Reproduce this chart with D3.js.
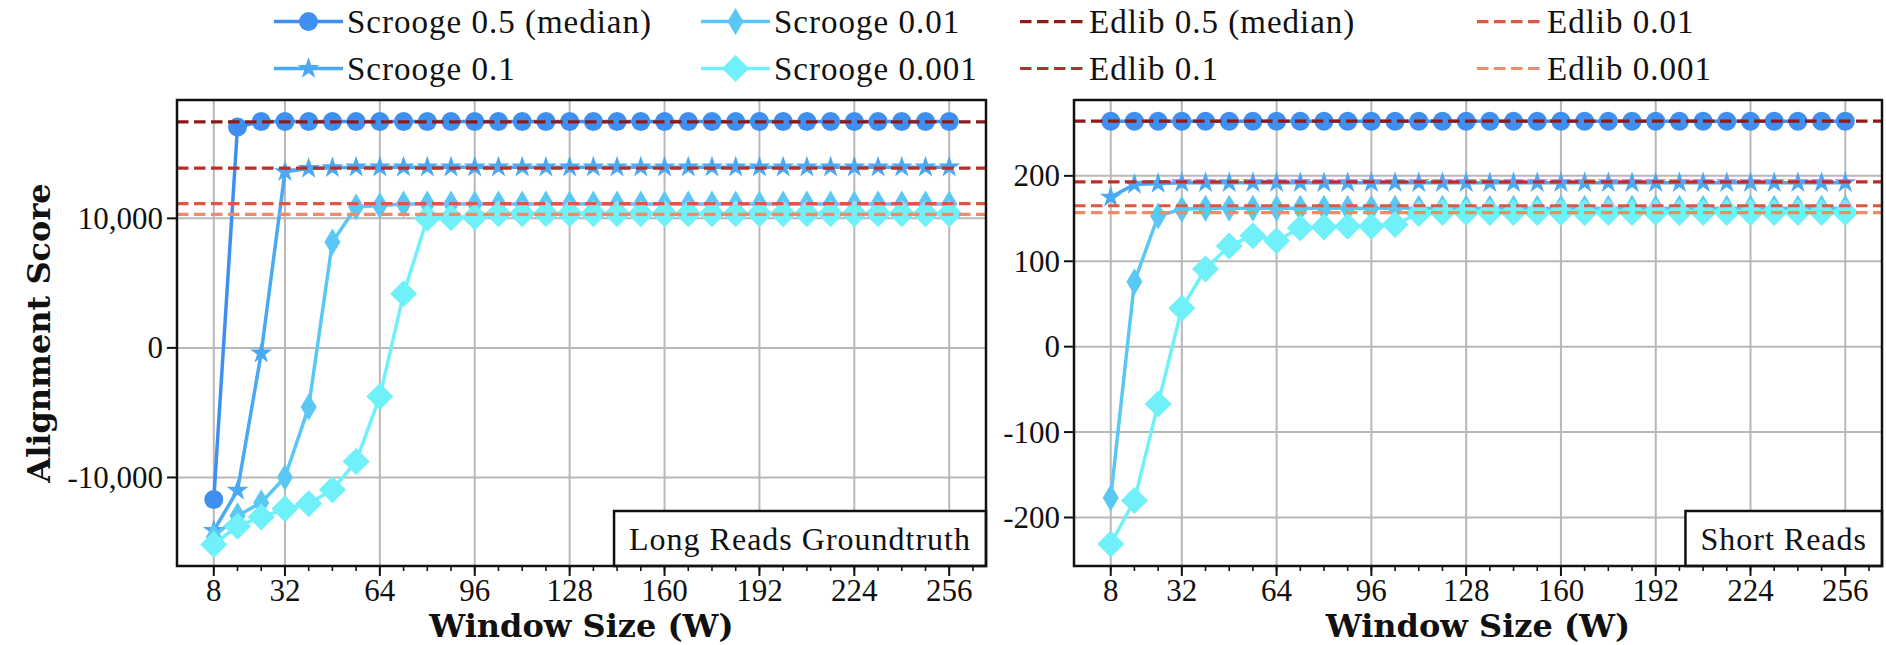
<!DOCTYPE html>
<html>
<head>
<meta charset="utf-8">
<script src="https://cdn.jsdelivr.net/npm/d3@7"></script>
<style>
  html, body { margin: 0; padding: 0; background: #fff; }
  svg { display: block; }
  .rm { font-family: "Liberation Serif", "DejaVu Serif", serif; fill: #111; }
  .bf { font-family: "DejaVu Serif", "Liberation Serif", serif; font-weight: bold; fill: #111; }
</style>
</head>
<body>
<svg id="chart" width="1886" height="645"></svg>
<script>
// ---- data ----
const windowSizes = [8, 16, 24, 32, 40, 48, 56, 64, 72, 80, 88, 96, 104, 112, 120, 128,
                     136, 144, 152, 160, 168, 176, 184, 192, 200, 208, 216, 224, 232, 240, 248, 256];
const xMajorTicks = [8, 32, 64, 96, 128, 160, 192, 224, 256];
const xMinorTicks = [8, 16, 24, 32, 40, 48, 56, 64, 72, 80, 88, 96, 104, 112, 120, 128, 136,
                     144, 152, 160, 168, 176, 184, 192, 200, 208, 216, 224, 232, 240, 248, 256, 264];
const longYTicks = [-10000, 0, 10000];
const shortYTicks = [-200, -100, 0, 100, 200];

const seriesNames = ["Scrooge 0.5 (median)", "Scrooge 0.1", "Scrooge 0.01", "Scrooge 0.001"];
const edlibNames = ["Edlib 0.5 (median)", "Edlib 0.1", "Edlib 0.01", "Edlib 0.001"];

// Long reads (groundtruth)
const longScrooge05 = [-11700, 17050, 17480, 17480, 17480, 17480, 17480, 17480, 17480, 17480, 17480,
  17480, 17480, 17480, 17480, 17480, 17480, 17480, 17480, 17480, 17480, 17480, 17480, 17480, 17480,
  17480, 17480, 17480, 17480, 17480, 17480, 17480];
const longScrooge01 = [-14100, -11000, -400, 13600, 13850, 13900, 13950, 13950, 13950, 13950, 13950,
  13950, 13950, 13950, 13950, 13950, 13950, 13950, 13950, 13950, 13950, 13950, 13950, 13950, 13950,
  13950, 13950, 13950, 13950, 13950, 13950, 13950];
const longScrooge001 = [-14600, -12950, -11950, -9980, -4570, 8170, 10870, 11000, 11100, 11100, 11100,
  11100, 11100, 11100, 11100, 11100, 11100, 11100, 11100, 11100, 11100, 11100, 11100, 11100, 11100,
  11100, 11100, 11100, 11100, 11100, 11100, 11100];
const longScrooge0001 = [-15170, -13760, -13060, -12420, -12030, -10950, -8760, -3760, 4180, 10000,
  10050, 10100, 10350, 10350, 10350, 10350, 10350, 10350, 10350, 10350, 10350, 10350, 10350, 10350,
  10350, 10350, 10350, 10350, 10350, 10350, 10350, 10350];
const longEdlib = [17450, 13880, 11130, 10310];

// Short reads
const shortScrooge05 = [264, 264, 264, 264, 264, 264, 264, 264, 264, 264, 264, 264, 264, 264, 264, 264,
  264, 264, 264, 264, 264, 264, 264, 264, 264, 264, 264, 264, 264, 264, 264, 264];
const shortScrooge01 = [175, 190, 191, 192, 192, 192, 192, 192, 192, 192, 192, 192, 192, 192, 192, 192,
  192, 192, 192, 192, 192, 192, 192, 192, 192, 192, 192, 192, 192, 192, 192, 192];
const shortScrooge001 = [-177, 76, 153, 161, 162, 162, 162, 162, 162, 162, 162, 162, 162, 162, 162, 162,
  162, 162, 162, 162, 162, 162, 162, 162, 162, 162, 162, 162, 162, 162, 162, 162];
const shortScrooge0001 = [-231, -180, -67, 45, 91, 118, 130, 124, 139, 140, 141, 141, 143, 156, 157, 157,
  157, 157, 157, 157, 157, 157, 157, 157, 157, 157, 157, 157, 157, 157, 157, 157];
const shortEdlib = [264, 193, 165, 157];

// ---- styles ----
const scroogeColors = ["#3f8ff0", "#4aa9f2", "#5ac8f5", "#70f0f8"];
const scroogeMarkers = ["circle", "star", "thin_diamond", "diamond"];
const edlibColors = ["#8c1a1a", "#b8302b", "#dd5741", "#ee8b69"];

function markerPath(type) {
  if (type === "circle") {
    return d3.symbol(d3.symbolCircle, Math.PI * 9.5 * 9.5)();
  }
  if (type === "star") {
    const R = 11.5, r = R * 0.382, pts = [];
    for (let i = 0; i < 10; i++) {
      const rad = i % 2 === 0 ? R : r;
      const a = -Math.PI / 2 + i * Math.PI / 5;
      pts.push([rad * Math.cos(a), rad * Math.sin(a)]);
    }
    return "M" + pts.map(p => p[0].toFixed(2) + "," + p[1].toFixed(2)).join("L") + "Z";
  }
  if (type === "thin_diamond") {
    const h = 13.5, w = 8;
    return `M0,${-h}L${w},0L0,${h}L${-w},0Z`;
  }
  const h = 13.5;
  return `M0,${-h}L${h},0L0,${h}L${-h},0Z`;
}

const svg = d3.select("#chart");
const xDomain = [-4.4, 268.4];
const fmtLong = v => d3.format(",")(v).replace("\u2212", "-");
const fmtShort = v => String(v);

const panels = [
  { left: 177, right: 986, top: 100, bottom: 566, yDomain: [-16835, 19135], yTicks: longYTicks,
    fmt: fmtLong, scrooge: [longScrooge05, longScrooge01, longScrooge001, longScrooge0001],
    edlib: longEdlib, label: "Long Reads Groundtruth", yLabel: "Alignment Score" },
  { left: 1074, right: 1882, top: 100, bottom: 566, yDomain: [-256.8, 288.8], yTicks: shortYTicks,
    fmt: fmtShort, scrooge: [shortScrooge05, shortScrooge01, shortScrooge001, shortScrooge0001],
    edlib: shortEdlib, label: "Short Reads", yLabel: null }
];

panels.forEach(p => {
  const x = d3.scaleLinear().domain(xDomain).range([p.left, p.right]);
  const y = d3.scaleLinear().domain(p.yDomain).range([p.bottom, p.top]);
  const g = svg.append("g");

  // grid
  const grid = g.append("g").attr("stroke", "#b8b8b8").attr("stroke-width", 2);
  grid.selectAll("line.vx").data(xMajorTicks).join("line")
    .attr("x1", d => x(d)).attr("x2", d => x(d)).attr("y1", p.top).attr("y2", p.bottom);
  grid.selectAll("line.hy").data(p.yTicks).join("line")
    .attr("y1", d => y(d)).attr("y2", d => y(d)).attr("x1", p.left).attr("x2", p.right);

  // Scrooge series: line + markers
  p.scrooge.forEach((vals, si) => {
    const pts = windowSizes.map((w, i) => [w, vals[i]]);
    const line = d3.line().x(d => x(d[0])).y(d => y(d[1]));
    g.append("path").attr("d", line(pts)).attr("fill", "none")
      .attr("stroke", scroogeColors[si]).attr("stroke-width", 3.5).attr("stroke-linejoin", "round");
    const mp = markerPath(scroogeMarkers[si]);
    g.append("g").selectAll("path").data(pts).join("path")
      .attr("d", mp)
      .attr("transform", d => `translate(${x(d[0])},${y(d[1])})`)
      .attr("fill", scroogeColors[si]);
  });

  // Edlib reference levels
  p.edlib.forEach((v, ei) => {
    g.append("line")
      .attr("x1", p.left).attr("x2", p.right).attr("y1", y(v)).attr("y2", y(v))
      .attr("stroke", edlibColors[ei]).attr("stroke-width", 3.2)
      .attr("stroke-dasharray", "11.5,5.5");
  });

  // ticks
  const ax = g.append("g").attr("stroke", "#111");
  ax.selectAll("line.mn").data(xMinorTicks).join("line")
    .attr("x1", d => x(d)).attr("x2", d => x(d)).attr("y1", p.bottom).attr("y2", p.bottom + 5)
    .attr("stroke-width", 1.6);
  ax.selectAll("line.mj").data(xMajorTicks).join("line")
    .attr("class", "mj")
    .attr("x1", d => x(d)).attr("x2", d => x(d)).attr("y1", p.bottom).attr("y2", p.bottom + 10)
    .attr("stroke-width", 2);
  ax.selectAll("line.yt").data(p.yTicks).join("line")
    .attr("class", "yt")
    .attr("y1", d => y(d)).attr("y2", d => y(d)).attr("x1", p.left - 10).attr("x2", p.left)
    .attr("stroke-width", 2);

  g.append("g").selectAll("text").data(xMajorTicks).join("text")
    .attr("class", "rm")
    .attr("x", d => x(d)).attr("y", p.bottom + 35)
    .attr("text-anchor", "middle").attr("font-size", 31)
    .text(d => d);
  g.append("g").selectAll("text").data(p.yTicks).join("text")
    .attr("class", "rm")
    .attr("x", p.left - 14).attr("y", d => y(d)).attr("dy", "0.34em")
    .attr("text-anchor", "end").attr("font-size", 31)
    .text(d => p.fmt(d));

  // annotation box in the lower right corner
  const ann = g.append("g");
  const annText = ann.append("text")
    .attr("class", "rm").attr("font-size", 32).attr("letter-spacing", 1)
    .text(p.label);
  const tw = annText.node().getComputedTextLength();
  const padX = 15, boxH = 55;
  const bx = p.right - tw - 2 * padX;
  ann.insert("rect", "text")
    .attr("x", bx).attr("y", p.bottom - boxH).attr("width", tw + 2 * padX).attr("height", boxH)
    .attr("fill", "#fff").attr("stroke", "#111").attr("stroke-width", 2.5);
  annText.attr("x", bx + padX).attr("y", p.bottom - boxH / 2 + 11);

  // frame
  g.append("rect").attr("x", p.left).attr("y", p.top)
    .attr("width", p.right - p.left).attr("height", p.bottom - p.top)
    .attr("fill", "none").attr("stroke", "#111").attr("stroke-width", 2.5);

  // axis labels
  g.append("text").attr("class", "bf")
    .attr("x", (p.left + p.right) / 2).attr("y", 637)
    .attr("text-anchor", "middle").attr("font-size", 32).text("Window Size (W)");
  if (p.yLabel) {
    g.append("text").attr("class", "bf")
      .attr("transform", `translate(50,${(p.top + p.bottom) / 2}) rotate(-90)`)
      .attr("text-anchor", "middle").attr("font-size", 32).text(p.yLabel);
  }
});

// ---- legend (four columns, filled column-wise) ----
const legCols = [{ x0: 274, x1: 343 }, { x0: 701, x1: 770 }, { x0: 1020, x1: 1085 }, { x0: 1477, x1: 1543 }];
const legRows = [21.6, 68.5];
const legend = svg.append("g");
const entries = [];
seriesNames.forEach((n, i) => entries.push({ name: n, kind: "scrooge", idx: i }));
edlibNames.forEach((n, i) => entries.push({ name: n, kind: "edlib", idx: i }));
entries.forEach((e, k) => {
  const col = legCols[Math.floor(k / 2)], yy = legRows[k % 2];
  const lg = legend.append("g");
  if (e.kind === "scrooge") {
    lg.append("line").attr("x1", col.x0).attr("x2", col.x1).attr("y1", yy).attr("y2", yy)
      .attr("stroke", scroogeColors[e.idx]).attr("stroke-width", 3.5);
    lg.append("path").attr("d", markerPath(scroogeMarkers[e.idx]))
      .attr("transform", `translate(${(col.x0 + col.x1) / 2},${yy})`)
      .attr("fill", scroogeColors[e.idx]);
  } else {
    lg.append("line").attr("x1", col.x0).attr("x2", col.x1).attr("y1", yy).attr("y2", yy)
      .attr("stroke", edlibColors[e.idx]).attr("stroke-width", 3.2)
      .attr("stroke-dasharray", "11.5,5.5");
  }
  lg.append("text").attr("class", "rm")
    .attr("x", col.x1 + 4).attr("y", yy + 11)
    .attr("font-size", 33).attr("letter-spacing", 1)
    .text(e.name);
});
</script>
</body>
</html>
